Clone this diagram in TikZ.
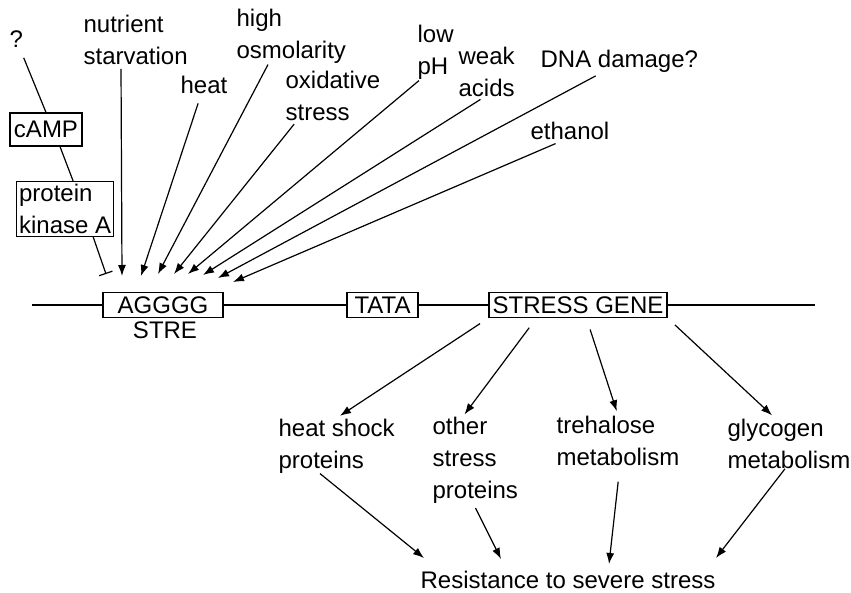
\documentclass[tikz,border=0pt]{standalone}
\usepackage{fontspec}
\setmainfont{Liberation Sans}
\usetikzlibrary{arrows.meta}

\begin{document}
\begin{tikzpicture}[x=1pt, y=-1pt, line width=1.2pt,
  lbl/.style={inner sep=0pt, anchor=base west, align=left, font=\fontsize{24}{32}\selectfont},
  box/.style={draw, fill=white, inner xsep=4pt, inner ysep=2.5pt, font=\fontsize{24}{32}\selectfont},
  gene/.style={draw, fill=white, inner sep=0pt, minimum height=25pt, font=\fontsize{24}{32}\selectfont},
  arr/.style={-{Latex[length=11pt,width=8pt]}},
  inh/.style={-{Bar[width=14pt]}}]
\useasboundingbox (0,0) rectangle (851,593);

\node[lbl] (q) at (9,48) {?};
\node[lbl] (nutr) at (83,65) {nutrient\\starvation};
\node[lbl] (heat) at (180,94) {heat};
\node[lbl] (osmo) at (236,59) {high\\osmolarity};
\node[lbl] (oxid) at (285,121) {oxidative\\stress};
\node[lbl] (lowph) at (417,75) {low\\pH};
\node[lbl] (weak) at (458,97) {weak\\acids};
\node[lbl] (dna) at (540,68) {DNA damage?};
\node[lbl] (etoh) at (530,140) {ethanol};

\node[box, minimum height=33pt] (camp) at (46,129.5) {cAMP};
\node[box, align=left, anchor=north west, inner xsep=2.5pt] (pka) at (16,181) {protein\\kinase A};

\node[gene, minimum width=120pt] (stre) at (163,305) {AGGGG};
\node[gene, minimum width=71pt] (tata) at (382.5,305) {TATA};
\node[gene, minimum width=178pt] (sg) at (578,305) {STRESS GENE};
\node[lbl, anchor=base] (strelbl) at (165,339) {STRE};

\node[lbl] (hsp) at (278,468) {heat shock\\proteins};
\node[lbl] (other) at (432,498) {other\\stress\\proteins};
\node[lbl] (treh) at (556,465) {trehalose\\metabolism};
\node[lbl] (glyc) at (727,468) {glycogen\\metabolism};
\node[lbl] (res) at (420,588) {Resistance to severe stress};

\coordinate (lend) at (32,305);
\coordinate (rend) at (815,305);
\coordinate (t0) at (106,274);
\coordinate (t1) at (122,276);
\coordinate (t2) at (141,276);
\coordinate (t3) at (158,274);
\coordinate (t4) at (174,274);
\coordinate (t5) at (188,274);
\coordinate (t6) at (203,275);
\coordinate (t7) at (218,278);
\coordinate (t8) at (233,282);

\draw (lend) -- (stre) -- (tata) -- (sg) -- (rend);

\draw[shorten <=10pt] (q) -- (camp.north);
\draw ([xshift=14pt]camp.south) -- ([xshift=8pt]pka.north);
\draw[inh] ([xshift=28pt]pka.south) -- (t0);

\draw[arr, shorten <=3pt] ([xshift=38pt]nutr.south west) -- (t1);
\draw[arr, shorten <=9pt] ([xshift=-3pt]heat.south) -- (t2);
\draw[arr] ([xshift=32pt]osmo.south west) -- (t3);
\draw[arr, shorten <=3pt] ([xshift=11pt]oxid.south west) -- (t4);
\draw[arr] ([xshift=2pt]lowph.south west) -- (t5);
\draw[arr, shorten <=3pt] ([xshift=25pt]weak.south west) -- (t6);
\draw[arr, shorten <=5pt] ([xshift=60pt]dna.south west) -- (t7);
\draw[arr, shorten <=7pt] ([xshift=32pt]etoh.south west) -- (t8);

\draw[arr, shorten <=10pt, shorten >=4pt] (sg.south west) -- (hsp.north);
\draw[arr, shorten <=12pt, shorten >=2pt] ([xshift=48pt]sg.south west) -- ([xshift=-12pt]other.north);
\draw[arr, shorten <=12pt, shorten >=4pt] ([xshift=98pt]sg.south west) -- (treh.north);
\draw[arr, shorten <=10pt, shorten >=4pt] (sg.south east) -- ([xshift=-14pt]glyc.north);

\draw[arr] ([xshift=42pt]hsp.south west) -- ([xshift=-144pt,yshift=12pt]res.north);
\draw[arr, shorten <=5pt] ([xshift=-2pt]other.south) -- ([xshift=-67pt,yshift=11pt]res.north);
\draw[arr, shorten <=16pt] ([xshift=2pt]treh.south) -- ([xshift=41pt,yshift=6pt]res.north);
\draw[arr] ([xshift=-4pt]glyc.south) -- ([xshift=148pt,yshift=12pt]res.north);
\end{tikzpicture}
\end{document}
